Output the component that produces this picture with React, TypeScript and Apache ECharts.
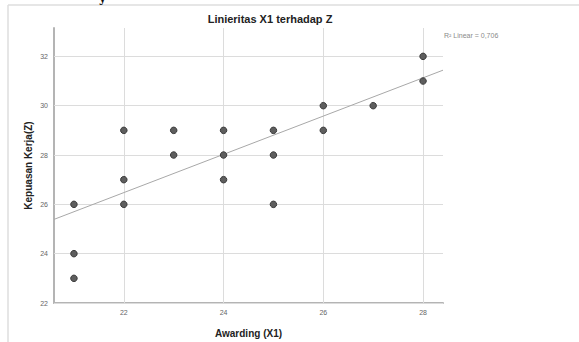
import React, { useEffect, useRef } from "react";
import * as echarts from "echarts";

const awarding = [21, 21, 21, 22, 22, 22, 23, 23, 24, 24, 24, 25, 25, 25, 26, 26, 27, 28, 28];
const kepuasan = [26, 24, 23, 29, 27, 26, 29, 28, 29, 28, 27, 29, 28, 26, 30, 29, 30, 32, 31];
const fitX = [20.6, 28.4];
const fitY = [25.39, 31.44];
const xTicks = [22, 24, 26, 28];
const yTicks = [22, 24, 26, 28, 30, 32];
const titleText = "Linieritas X1 terhadap Z";
const r2Text = "R² Linear = 0,706";

export default function App() {
  const ref = useRef<HTMLDivElement>(null);
  useEffect(() => {
    if (!ref.current) return;
    const chart = echarts.init(ref.current, null, { renderer: "svg" });
    const font = "Liberation Sans, Arial, sans-serif";
    const gridColor = "#dcdcdc";
    const markLines = [
      ...xTicks.map((v) => ({ xAxis: v })),
      ...yTicks.map((v) => ({ yAxis: v })),
    ];
    chart.setOption({
      animation: false,
      backgroundColor: "#fff",
      grid: { left: 54, right: 136, top: 28, bottom: 39, outerBoundsMode: "none", containLabel: false },
      graphic: [
        { type: "line", shape: { x1: 8, y1: 5, x2: 579, y2: 5 }, style: { stroke: "#dedede", lineWidth: 1.5 } },
        { type: "line", shape: { x1: 8, y1: 5, x2: 8, y2: 342 }, style: { stroke: "#dedede", lineWidth: 1.5 } },
        { type: "text", x: 99, y: -8, style: { text: "y", font: "bold 12px DejaVu Serif, serif", fill: "#111" } },
        { type: "text", x: 270, y: 19, style: { text: titleText, font: `bold 11px ${font}`, fill: "#222", align: "center", verticalAlign: "middle" } },
        { type: "text", x: 444, y: 35, style: { text: r2Text, font: `7px ${font}`, fill: "#8a8a8a", verticalAlign: "middle" } },
      ],
      xAxis: {
        type: "value",
        min: 20.6,
        max: 28.4,
        name: "Awarding (X1)",
        nameLocation: "middle",
        nameGap: 25,
        nameMoveOverlap: false,
        nameTextStyle: { fontFamily: font, fontSize: 10, fontWeight: "bold", color: "#222" },
        axisLine: { show: true, onZero: false, lineStyle: { color: "#b4b4b4", width: 2 } },
        axisTick: { show: false },
        splitLine: { show: false },
        axisLabel: { customValues: xTicks, fontFamily: font, fontSize: 7, color: "#666", margin: 6 },
      },
      yAxis: {
        type: "value",
        min: 22,
        max: 33.15,
        name: "Kepuasan Kerja(Z)",
        nameLocation: "middle",
        nameGap: 21,
        nameMoveOverlap: false,
        nameTextStyle: { fontFamily: font, fontSize: 10, fontWeight: "bold", color: "#222" },
        axisLine: { show: true, onZero: false, lineStyle: { color: "#b4b4b4", width: 2 } },
        axisTick: { show: false },
        splitLine: { show: false },
        axisLabel: { customValues: yTicks, fontFamily: font, fontSize: 7, color: "#666", margin: 6 },
      },
      series: [
        {
          type: "line",
          data: [],
          silent: true,
          z: 1,
          markLine: {
            silent: true,
            z: 1,
            symbol: "none",
            label: { show: false },
            lineStyle: { color: gridColor, width: 1, type: "solid" },
            data: markLines,
          },
        },
        {
          type: "line",
          data: fitX.map((x, i) => [x, fitY[i]]),
          showSymbol: false,
          symbol: "none",
          lineStyle: { color: "#a8a8a8", width: 1 },
          z: 2,
        },
        {
          type: "scatter",
          data: awarding.map((x, i) => [x, kepuasan[i]]),
          symbolSize: 6.5,
          itemStyle: { color: "#5e5e5e", borderColor: "#3a3a3a", borderWidth: 1, opacity: 1 },
          z: 10,
        },
      ],
    });
    return () => chart.dispose();
  }, []);
  return <div ref={ref} style={{ width: 579, height: 342, position: "absolute", left: 0, top: 0 }} />;
}
